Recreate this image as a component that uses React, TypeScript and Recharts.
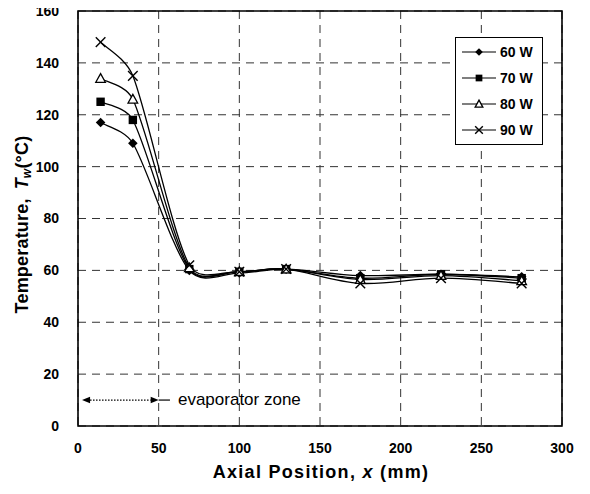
import React from 'react';
import {
  LineChart,
  Line,
  XAxis,
  YAxis,
  CartesianGrid,
  ReferenceArea,
  ReferenceLine,
  Legend,
} from 'recharts';

// Axial positions (mm)
const positions = [14, 34, 69, 100, 129, 175, 225, 275];
// Wall temperatures (°C) per heat input
const series60 = [117, 109, 60, 59, 60.5, 58, 58.5, 57.5];
const series70 = [125, 118, 60.5, 59.5, 60.5, 57, 58.5, 57];
const series80 = [134, 126, 61, 59.5, 60.5, 56.5, 58, 56];
const series90 = [148, 135, 62, 59.5, 60.5, 55, 57, 55];
const seriesNames = ['60 W', '70 W', '80 W', '90 W'];
const seriesKinds = ['diamond', 'square', 'triangle', 'cross'];

const xTicks = [0, 50, 100, 150, 200, 250, 300];
const yTicks = [0, 20, 40, 60, 80, 100, 120, 140, 160];
const xMinorTicks = [10, 20, 30, 40, 60, 70, 80, 90, 110, 120, 130, 140, 160, 170, 180, 190, 210, 220, 230, 240, 260, 270, 280, 290];
const yMinorTicks = [4, 8, 12, 16, 24, 28, 32, 36, 44, 48, 52, 56, 64, 68, 72, 76, 84, 88, 92, 96, 104, 108, 112, 116, 124, 128, 132, 136, 144, 148, 152, 156];

const data = positions.map((x, i) => ({
  x,
  p60: series60[i],
  p70: series70[i],
  p80: series80[i],
  p90: series90[i],
}));
const keys = ['p60', 'p70', 'p80', 'p90'];

const FONT = '"Liberation Sans", Arial, Helvetica, sans-serif';

const dist = (a: number[], b: number[]) => Math.hypot(a[0] - b[0], a[1] - b[1]);

// Excel-like smoothed line (bezier through points, control arms clamped)
function smoothCurve(context: any) {
  let pts: number[][] = [];
  return {
    areaStart() {},
    areaEnd() {},
    lineStart() {
      pts = [];
    },
    point(x: number, y: number) {
      pts.push([+x, +y]);
    },
    lineEnd() {
      const n = pts.length;
      if (!n) return;
      context.moveTo(pts[0][0], pts[0][1]);
      const k = 1 / 6;
      for (let i = 0; i < n - 1; i++) {
        const p0 = pts[i - 1] || pts[i];
        const p1 = pts[i];
        const p2 = pts[i + 1];
        const p3 = pts[i + 2] || pts[i + 1];
        const d12 = dist(p1, p2);
        const d02 = dist(p0, p2) || 1;
        const d13 = dist(p1, p3) || 1;
        let f0 = k;
        let f1 = k;
        if (d02 * k > d12 * 0.4) f0 = (d12 * 0.4) / d02;
        if (d13 * k > d12 * 0.4) f1 = (d12 * 0.4) / d13;
        context.bezierCurveTo(
          p1[0] + (p2[0] - p0[0]) * f0,
          p1[1] + (p2[1] - p0[1]) * f0,
          p2[0] - (p3[0] - p1[0]) * f1,
          p2[1] - (p3[1] - p1[1]) * f1,
          p2[0],
          p2[1]
        );
      }
    },
  };
}

function Marker({ kind, cx, cy, s = 1 }: { kind: string; cx: number; cy: number; s?: number }) {
  if (kind === 'diamond') {
    const r = 4.8 * s;
    return <polygon points={`${cx},${cy - r} ${cx + r},${cy} ${cx},${cy + r} ${cx - r},${cy}`} fill="#000" />;
  }
  if (kind === 'square') {
    const r = 4.2 * s;
    return <rect x={cx - r} y={cy - r} width={2 * r} height={2 * r} fill="#000" />;
  }
  if (kind === 'triangle') {
    const r = 4.8 * s;
    return (
      <polygon
        points={`${cx},${cy - r} ${cx + r},${cy + r * 0.8} ${cx - r},${cy + r * 0.8}`}
        fill="#fff"
        stroke="#000"
        strokeWidth={1.3}
      />
    );
  }
  const r = 4.8 * s;
  return (
    <g stroke="#000" strokeWidth={1.4}>
      <line x1={cx - r} y1={cy - r} x2={cx + r} y2={cy + r} />
      <line x1={cx - r} y1={cy + r} x2={cx + r} y2={cy - r} />
    </g>
  );
}

const makeDot = (kind: string) => (props: any) => {
  const { cx, cy, index } = props;
  if (cx == null || cy == null) return <g key={index} />;
  return <Marker key={index} kind={kind} cx={cx} cy={cy} />;
};

const LegendBox = () => (
  <svg width={88} height={108} style={{ display: 'block' }}>
    <rect x={0.5} y={0.5} width={87} height={107} fill="#fff" stroke="#000" strokeWidth={1} />
    {seriesNames.map((name, i) => {
      const y = 15 + i * 26;
      return (
        <g key={name}>
          <line x1={7} y1={y} x2={41} y2={y} stroke="#000" strokeWidth={1.2} />
          <Marker kind={seriesKinds[i]} cx={24} cy={y} s={0.8} />
          <text x={45} y={y + 5} fontFamily={FONT} fontWeight="bold" fontSize={14} fill="#000">
            {name}
          </text>
        </g>
      );
    })}
  </svg>
);

const XLabel = (props: any) => {
  const vb = props.viewBox || {};
  const cx = vb.x + vb.width / 2;
  return (
    <text x={cx + 1} y={vb.y + 52} textAnchor="middle" fontFamily={FONT} fontWeight="bold" fontSize={18} fill="#000" letterSpacing={1.3}>
      <tspan>Axial Position, </tspan>
      <tspan fontStyle="italic">x</tspan>
      <tspan> (mm)</tspan>
    </text>
  );
};

const YLabel = (props: any) => {
  const vb = props.viewBox || {};
  const x = vb.x + 12;
  const y = vb.y + vb.height / 2 + 6;
  return (
    <text
      transform={`translate(${x},${y}) rotate(-90)`}
      textAnchor="middle"
      fontFamily={FONT}
      fontWeight="bold"
      fontSize={18}
      fill="#000"
      letterSpacing={0.2}
    >
      <tspan>Temperature,</tspan>
      <tspan dx={9} fontStyle="italic">T</tspan>
      <tspan fontStyle="italic" fontSize={12} dy={3}>w</tspan>
      <tspan dy={-3}>(°C)</tspan>
    </text>
  );
};

const ArrowDotted = (props: any) => {
  const { x1, y1, x2 } = props;
  const h = 8;
  const w = 3.2;
  return (
    <g>
      <line x1={x1 + h} y1={y1} x2={x2 - h} y2={y1} stroke="#000" strokeWidth={1.2} strokeDasharray="1.5 1.5" />
      <polygon points={`${x1},${y1} ${x1 + h},${y1 - w} ${x1 + h},${y1 + w}`} fill="#000" />
      <polygon points={`${x2},${y1} ${x2 - h},${y1 - w} ${x2 - h},${y1 + w}`} fill="#000" />
    </g>
  );
};

const ArrowTail = (props: any) => {
  const { x1, y1, x2 } = props;
  return (
    <g>
      <line x1={x1} y1={y1} x2={x2} y2={y1} stroke="#000" strokeWidth={1.2} />
      <text x={x2 + 8} y={y1 + 5} fontFamily={FONT} fontSize={17} fill="#000">
        evaporator zone
      </text>
    </g>
  );
};

const tickStyle = { fontFamily: FONT, fontWeight: 'bold', fontSize: 14, fill: '#000' } as any;

export default function App() {
  return (
    <div style={{ margin: '-8px 0 0 -8px', width: 590, height: 494 }}>
      <LineChart width={590} height={494} data={data} margin={{ top: 11, right: 28, bottom: 18, left: 16 }}>
        <CartesianGrid xAxisId="main" yAxisId="main" stroke="#333" strokeDasharray="8 6" strokeWidth={1} />
        <XAxis
          xAxisId="main"
          dataKey="x"
          type="number"
          domain={[0, 300]}
          ticks={xTicks}
          interval={0}
          height={50}
          tickLine={false}
          tickSize={0}
          tickMargin={17}
          axisLine={false}
          tick={tickStyle}
          label={{ content: XLabel } as any}
        />
        <XAxis
          xAxisId="minor"
          type="number"
          domain={[0, 300]}
          ticks={xMinorTicks}
          interval={0}
          mirror
          tick={false}
          tickSize={4}
          tickLine={{ stroke: '#000', strokeWidth: 1 }}
          axisLine={false}
        />
        <YAxis
          yAxisId="main"
          type="number"
          domain={[0, 160]}
          ticks={yTicks}
          interval={0}
          width={62}
          tickLine={false}
          tickSize={0}
          tickMargin={19}
          axisLine={false}
          tick={tickStyle}
          label={{ content: YLabel } as any}
        />
        <YAxis
          yAxisId="minor"
          type="number"
          domain={[0, 160]}
          ticks={yMinorTicks}
          interval={0}
          mirror
          tick={false}
          tickSize={4}
          tickLine={{ stroke: '#000', strokeWidth: 1 }}
          axisLine={false}
        />
        <ReferenceArea
          xAxisId="main"
          yAxisId="main"
          x1={0}
          x2={300}
          y1={0}
          y2={160}
          fill="none"
          stroke="#000"
          strokeWidth={1.6}
          fillOpacity={0}
          ifOverflow="visible"
        />
        <ReferenceLine
          xAxisId="main"
          yAxisId="main"
          segment={[{ x: 2.5, y: 10 }, { x: 50, y: 10 }]}
          shape={ArrowDotted as any}
          ifOverflow="visible"
        />
        <ReferenceLine
          xAxisId="main"
          yAxisId="main"
          segment={[{ x: 50, y: 10 }, { x: 57, y: 10 }]}
          shape={ArrowTail as any}
          ifOverflow="visible"
        />
        {keys.map((k, i) => (
          <Line
            key={k}
            xAxisId="main"
            yAxisId="main"
            dataKey={k}
            name={seriesNames[i]}
            type={smoothCurve as any}
            stroke="#000"
            strokeWidth={1.3}
            dot={makeDot(seriesKinds[i]) as any}
            activeDot={false}
            isAnimationActive={false}
          />
        ))}
        <Legend
          layout="horizontal"
          verticalAlign="middle"
          align="center"
          content={LegendBox as any}
          wrapperStyle={{ left: 455, top: 37, width: 88, height: 108, margin: 0, padding: 0 }}
        />
      </LineChart>
    </div>
  );
}
